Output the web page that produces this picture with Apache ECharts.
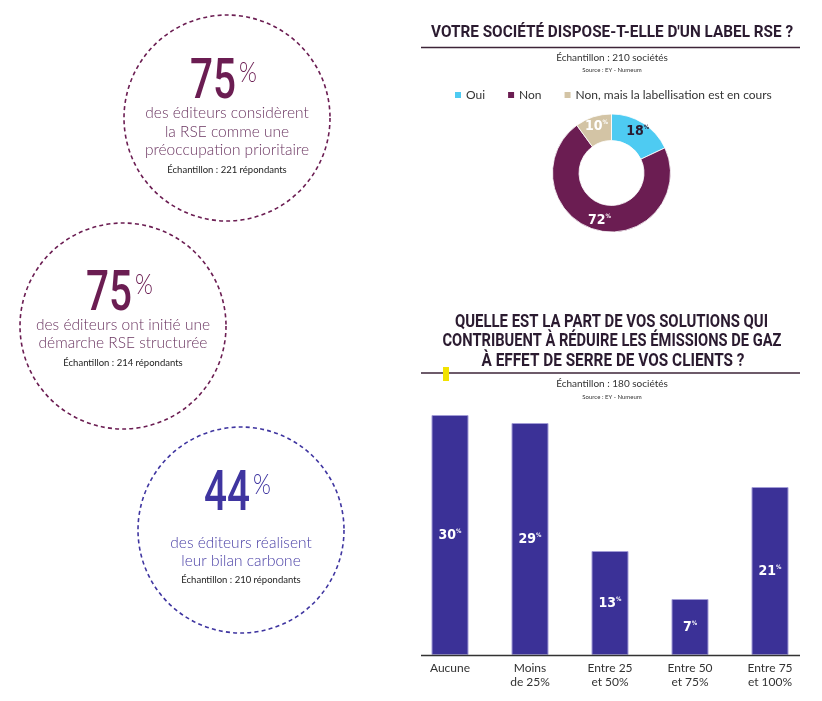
<!DOCTYPE html>
<html><head><meta charset="utf-8">
<script src="https://cdn.jsdelivr.net/npm/echarts@6/dist/echarts.min.js"></script>
<style>html,body{margin:0;padding:0;background:#fff}#c{width:822px;height:701px}</style>
</head><body><div id="c"></div>
<script>
// ---- data ----
const kpiValues = [75, 75, 44];
const kpiTexts = [
  ["des éditeurs considèrent", "la RSE comme une", "préoccupation prioritaire"],
  ["des éditeurs ont initié une", "démarche RSE structurée"],
  ["des éditeurs réalisent", "leur bilan carbone"]
];
const kpiSamples = ["Échantillon : 221 répondants", "Échantillon : 214 répondants", "Échantillon : 210 répondants"];

const pieTitle = "VOTRE SOCIÉTÉ DISPOSE-T-ELLE D'UN LABEL RSE ?";
const pieSample = "Échantillon : 210 sociétés";
const sourceText = "Source : EY - Numeum";
const pieCategories = ["Oui", "Non", "Non, mais la labellisation est en cours"];
const pieValues = [18, 72, 10];

const barTitle = ["QUELLE EST LA PART DE VOS SOLUTIONS QUI", "CONTRIBUENT À RÉDUIRE LES ÉMISSIONS DE GAZ", "À EFFET DE SERRE DE VOS CLIENTS ?"];
const barSample = "Échantillon : 180 sociétés";
const barCategories = ["Aucune", "Moins\nde 25%", "Entre 25\net 50%", "Entre 50\net 75%", "Entre 75\net 100%"];
const barValues = [30, 29, 13, 7, 21];

// ---- styling / layout ----
const PLUM = '#6b1d52', INDIGO = '#3b3197', CYAN = '#4ecbf2', BEIGE = '#d3c4a5';
const TITLE_COLOR = '#2b1b30';
const kpiLayout = [
  {cx: 227, cy: 118, color: PLUM, textColor: '#6a3460', numY: 81, lineYs: [113, 131.5, 150], sampleY: 170},
  {cx: 123, cy: 326, color: PLUM, textColor: '#6a3460', numY: 293, lineYs: [325, 343], sampleY: 363},
  {cx: 241, cy: 530, color: '#3f35a0', textColor: '#4a40a6', numY: 493, lineYs: [543, 561], sampleY: 580}
];

const ctx = document.createElement('canvas').getContext('2d');
function measure(text, font) { ctx.font = font; return ctx.measureText(text).width; }

const graphics = [];
const NUM_FONT = '500 56px Roboto';
kpiValues.forEach((v, i) => {
  const L = kpiLayout[i];
  graphics.push({type: 'circle', shape: {cx: L.cx, cy: L.cy, r: 103}, silent: true,
    style: {fill: 'none', stroke: L.color, lineWidth: 1.6, lineDash: [4, 3.2]}});
  const numText = String(v);
  const w = measure(numText, NUM_FONT);
  const sx = 46 / w;
  graphics.push({type: 'text', x: L.cx + 9, y: L.numY + 3, scaleX: sx, silent: true,
    style: {text: numText, font: NUM_FONT, fill: L.color, textAlign: 'right', textVerticalAlign: 'middle'}});
  graphics.push({type: 'text', x: L.cx + 12, y: L.numY - 8, scaleX: 0.85, silent: true,
    style: {text: '%', font: '300 27px Lato', fill: L.color, textAlign: 'left', textVerticalAlign: 'middle'}});
  kpiTexts[i].forEach((t, j) => {
    graphics.push({type: 'text', x: L.cx, y: L.lineYs[j], silent: true,
      style: {text: t, font: '300 15.5px Lato', fill: L.textColor, textAlign: 'center', textVerticalAlign: 'middle'}});
  });
  graphics.push({type: 'text', x: L.cx, y: L.sampleY, silent: true,
    style: {text: kpiSamples[i], font: '400 9.5px Lato', fill: '#222', textAlign: 'center', textVerticalAlign: 'middle'}});
});

function titleText(t, cx, cy, targetW, size) {
  const f = '700 ' + size + 'px Roboto';
  const w = measure(t, f);
  graphics.push({type: 'text', x: cx, y: cy, scaleX: targetW / w, silent: true,
    style: {text: t, font: f, fill: TITLE_COLOR, textAlign: 'center', textVerticalAlign: 'middle'}});
}
titleText(pieTitle, 612, 33, 362, 17);
graphics.push({type: 'line', silent: true, shape: {x1: 421, y1: 47.5, x2: 800, y2: 47.5}, style: {stroke: '#3d2438', lineWidth: 1.5}});
graphics.push({type: 'text', x: 612, y: 58, silent: true, style: {text: pieSample, font: '400 10px Lato', fill: '#333', textAlign: 'center', textVerticalAlign: 'middle'}});
graphics.push({type: 'text', x: 612, y: 70.5, silent: true, style: {text: sourceText, font: '400 6px Lato', fill: '#333', textAlign: 'center', textVerticalAlign: 'middle'}});

const barTitleYs = [322, 341.5, 361], barTitleWs = [313, 339, 263], barTitleXs = [611.5, 612, 613];
barTitle.forEach((t, i) => titleText(t, barTitleXs[i], barTitleYs[i], barTitleWs[i], 18));
graphics.push({type: 'line', silent: true, shape: {x1: 421, y1: 373, x2: 800, y2: 373}, style: {stroke: '#3d2438', lineWidth: 1.5}});
graphics.push({type: 'rect', silent: true, shape: {x: 443, y: 367, width: 6, height: 14}, style: {fill: '#f2e200'}});
graphics.push({type: 'text', x: 612, y: 384, silent: true, style: {text: barSample, font: '400 10px Lato', fill: '#333', textAlign: 'center', textVerticalAlign: 'middle'}});
graphics.push({type: 'text', x: 612, y: 397, silent: true, style: {text: sourceText, font: '400 6px Lato', fill: '#333', textAlign: 'center', textVerticalAlign: 'middle'}});
graphics.push({type: 'line', silent: true, z: 10, shape: {x1: 421, y1: 655.5, x2: 800, y2: 655.5}, style: {stroke: '#333', lineWidth: 1.5}});

const valRich = {
  n: {fontFamily: 'DejaVu Sans Condensed', fontWeight: 'bold', fontSize: 14, color: '#fff'},
  p: {fontFamily: 'DejaVu Sans Condensed', fontWeight: 'bold', fontSize: 6, color: '#fff', verticalAlign: 'top', padding: [0, 0, 5, 0]},
  nd: {fontFamily: 'DejaVu Sans Condensed', fontWeight: 'bold', fontSize: 14, color: TITLE_COLOR},
  pd: {fontFamily: 'DejaVu Sans Condensed', fontWeight: 'bold', fontSize: 6, color: TITLE_COLOR, verticalAlign: 'top', padding: [0, 0, 5, 0]}
};
const pieColors = [CYAN, PLUM, BEIGE];

const chart = echarts.init(document.getElementById('c'), null, {renderer: 'canvas'});
chart.setOption({
  animation: false,
  backgroundColor: '#fff',
  graphic: graphics,
  legend: {
    data: pieCategories, left: 448, top: 84, itemWidth: 8, itemHeight: 8, itemGap: 21, icon: 'rect',
    textStyle: {fontFamily: 'Lato', fontSize: 12, color: '#333', padding: [0, 0, 0, -1]}
  },
  grid: {left: 410, right: 12, top: 415, bottom: 46},
  xAxis: {
    type: 'category', data: barCategories,
    axisLine: {show: false}, axisTick: {show: false},
    axisLabel: {interval: 0, color: '#333', fontFamily: 'Lato', fontSize: 12, lineHeight: 14, margin: 6}
  },
  yAxis: {type: 'value', min: 0, max: 30, show: false, splitLine: {show: false}},
  series: [
    {
      type: 'pie', center: [611.5, 173], radius: [32.5, 59], startAngle: 90, clockwise: true,
      avoidLabelOverlap: false, silent: true,
      itemStyle: {borderColor: '#fff', borderWidth: 0.8},
      label: {
        show: true, position: 'inside', rich: valRich,
        formatter: p => p.dataIndex === 0 ? `{nd|${p.value}}{pd|%}` : `{n|${p.value}}{p|%}`
      },
      labelLine: {show: false},
      data: pieCategories.map((c, i) => ({name: c, value: pieValues[i], itemStyle: {color: pieColors[i]}}))
    },
    {
      type: 'bar', data: barValues, barWidth: 37,
      itemStyle: {color: INDIGO, borderColor: '#a29cd6', borderWidth: 1},
      label: {show: true, position: 'inside', rich: valRich, formatter: p => `{n|${p.value}}{p|%}`}
    }
  ]
});
</script></body></html>
